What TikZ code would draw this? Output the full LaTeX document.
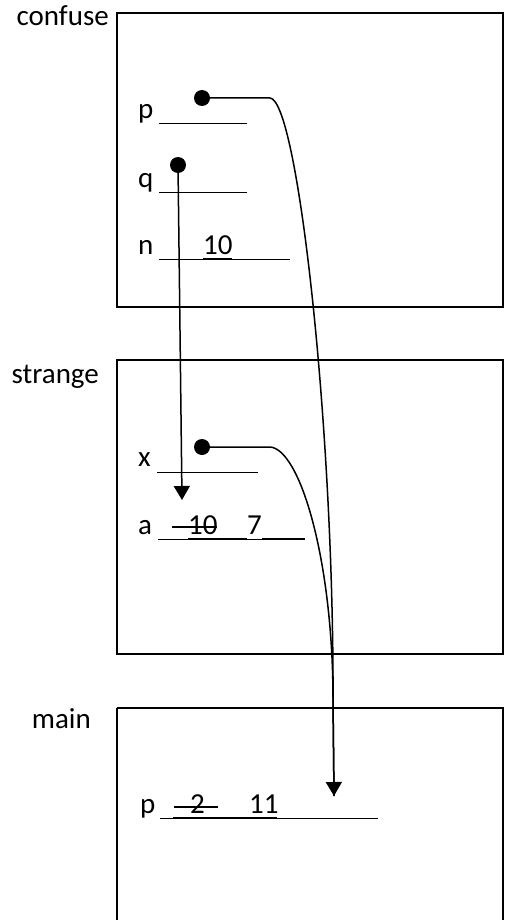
\documentclass[tikz,border=0pt]{standalone}
\usepackage{fontspec}
\setmainfont{Carlito}
\usetikzlibrary{arrows.meta}
\begin{document}
\begin{tikzpicture}[x=1pt,y=-1pt,
  framebox/.style={draw=black,line width=2pt},
  framelabel/.style={anchor=base east,inner sep=0pt,font=\fontsize{29}{33}\selectfont},
  txt/.style={anchor=base west,inner sep=0pt,font=\fontsize{29}{33}\selectfont},
  blank/.style={line width=0.9pt},
  ul/.style={line width=1.8pt},
  dotmark/.style={circle,fill=black,minimum size=16pt,inner sep=0pt},
  link/.style={line width=1.5pt},
  tip/.style={-{Triangle[width=16pt,length=14pt]}}]
\useasboundingbox (0,0) rectangle (504,920);
\fill[white] (0,0) rectangle (504,920);
% boxes
\draw[framebox] (117,13) rectangle (503,307);
\draw[framebox] (117,360) rectangle (503,654);
\draw[framebox] (117,708) -- (503,708) -- (503,930);
\draw[framebox] (117,708) -- (117,930);
\node[framelabel] (lconf) at (109,26) {confuse};
\node[framelabel] (lstr) at (99,383) {strange};
\node[framelabel] (lmain) at (91,728) {main};
% confuse rows
\node[txt] (cp) at (138,119) {p};
\draw[blank] (159,123) -- (247,123);
\node[txt] (cq) at (138,188) {q};
\draw[blank] (159,192) -- (247,192);
\node[txt] (cn) at (138,254) {n};
\draw[blank] (159,259) -- (290,259);
\node[txt] (cn10) at (203,254) {10};
\draw[ul] (203,258.5) -- (232,258.5);
\node[dotmark] (dp) at (202,98) {};
\node[dotmark] (dq) at (178,165) {};
% strange rows
\node[txt] (sx) at (138,466) {x};
\draw[blank] (157,472) -- (258,472);
\node[txt] (sa) at (138,534) {a};
\draw[blank] (158,539) -- (305,539);
\draw[ul] (188,538.5) -- (247,538.5);
\draw[ul] (262,538.5) -- (305,538.5);
\node[txt] (sa10) at (188,534) {10};
\draw[ul] (172,527) -- (217,527);
\node[txt] (sa7) at (247,534) {7};
\node[dotmark] (dx) at (202,447) {};
\coordinate (qend) at (182,500);
% main rows
\node[txt] (mp) at (140,813) {p};
\draw[blank] (160,818) -- (378,818);
\draw[ul] (173,817.5) -- (277,817.5);
\node[txt] (mp2) at (190,813) {2};
\draw[ul] (174,807) -- (218,807);
\node[txt] (mp11) at (249,813) {11};
\coordinate (pend) at (334,796);
% connectors
\draw[link,tip] (dq.center) .. controls (180,330) .. (qend);
\draw[link] (dp.center) -- (270,98) .. controls (298,100) and (334,430) .. (333,700) -- (pend);
\draw[link,tip] (dx.center) -- (270,447) .. controls (300,449) and (333,560) .. (333,700) -- (pend);
\end{tikzpicture}
\end{document}
